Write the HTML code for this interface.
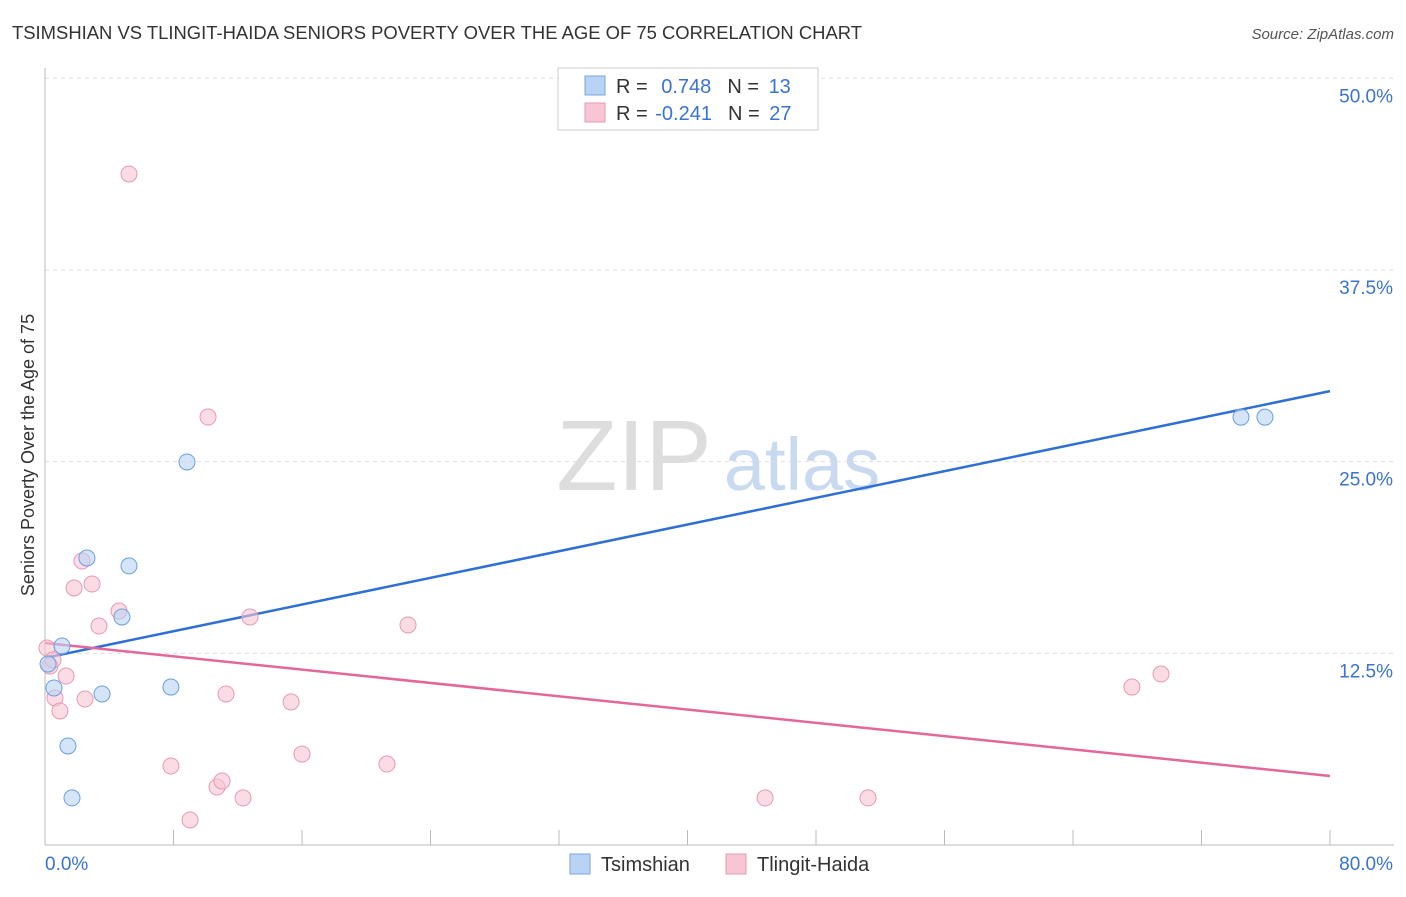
<!DOCTYPE html>
<html><head><meta charset="utf-8"><style>
body{margin:0;background:#fff;font-family:"Liberation Sans",sans-serif;}
svg text{font-family:"Liberation Sans",sans-serif;}
</style></head><body>
<svg id="chart" width="1406" height="892">
<text x="12" y="39" font-size="18" fill="#333" textLength="850" lengthAdjust="spacingAndGlyphs">TSIMSHIAN VS TLINGIT-HAIDA SENIORS POVERTY OVER THE AGE OF 75 CORRELATION CHART</text>
<text x="1394" y="39" font-size="15" fill="#555" text-anchor="end" font-style="italic">Source: ZipAtlas.com</text>
<text x="0" y="0" transform="translate(34,455) rotate(-90)" font-size="18" fill="#333" text-anchor="middle">Seniors Poverty Over the Age of 75</text>
<g><text x="634" y="490" font-size="100" fill="#ddd" text-anchor="middle" font-family="Liberation Serif">ZIP</text><text x="802" y="490" font-size="74" fill="#c9d9f0" text-anchor="middle">atlas</text></g>
<g id="grid"></g><g id="axes"></g><g id="lines"></g><g id="points"></g>
<g>
<rect x="558" y="68" width="260" height="62" fill="#fff" stroke="#ccc"/>
<rect x="585" y="76" width="20" height="19" fill="#b9d3f5" stroke="#7aa6e0"/>
<rect x="585" y="103" width="20" height="19" fill="#f9c4d4" stroke="#e79ab2"/>
<text x="616" y="93" font-size="20" fill="#333">R = <tspan fill="#3a74d0" dx="8">0.748</tspan><tspan fill="#333" dx="16">N = </tspan><tspan fill="#3a74d0" dx="4">13</tspan></text>
<text x="616" y="120" font-size="20" fill="#333">R = <tspan fill="#3a74d0" dx="2">-0.241</tspan><tspan fill="#333" dx="16">N = </tspan><tspan fill="#3a74d0" dx="4">27</tspan></text>
</g>
<g>
<rect x="570" y="854" width="20" height="20" fill="#b9d3f5" stroke="#7aa6e0"/>
<text x="601" y="871" font-size="20" fill="#333">Tsimshian</text>
<rect x="726" y="854" width="20" height="20" fill="#f9c4d4" stroke="#e79ab2"/>
<text x="757" y="871" font-size="20" fill="#333">Tlingit-Haida</text>
</g>
</svg>
<script>
const yTicks=[12.5,25,37.5,50];
const yTickLabels=["12.5%","25.0%","37.5%","50.0%"];
const blueX=[0.19,0.56,1.06,1.43,1.68,2.61,3.55,4.79,5.23,7.84,8.84,74.46,75.95];
const blueY=[11.8,10.24,12.98,6.46,3.07,18.72,9.85,14.87,18.2,10.3,24.98,27.9,27.9];
const pinkX=[0.12,0.31,0.5,0.62,0.93,1.31,1.81,2.3,2.49,2.93,3.36,4.61,5.23,7.84,9.03,10.15,10.71,11.02,11.27,12.33,12.76,15.32,16.0,21.29,22.6,44.83,51.24,67.67,69.48];
const pinkY=[12.85,11.67,12.07,9.59,8.74,11.02,16.76,18.52,9.52,17.02,14.28,15.26,43.76,5.15,1.63,27.91,3.78,4.17,9.85,3.07,14.87,9.33,5.93,5.28,14.35,3.07,3.07,10.3,11.15];
const blueTrend=[12.2,29.6];
const pinkTrend=[13.17,4.5];
const NS="http://www.w3.org/2000/svg";
const X=v=>45+v/80*1285, Y=v=>845-v/50*766.7;
function mk(t,a,p){const e=document.createElementNS(NS,t);for(const k in a)e.setAttribute(k,a[k]);document.getElementById(p).appendChild(e);return e;}
yTicks.forEach((t,i)=>{
 const g=mk('line',{x1:45,x2:1394,y1:Y(t),y2:Y(t),stroke:'#ddd','stroke-dasharray':'4,4'},'grid');
 
 
 const l=mk('text',{x:1393,y:Y(t)+24,'font-size':19,fill:'#3a74d0','text-anchor':'end'},'axes');
 l.textContent=yTickLabels[i];
 
 
});
const ax=mk('line',{x1:45,x2:45,y1:68,y2:845,stroke:'#bbb'},'axes');


const bx=mk('line',{x1:45,x2:1394,y1:845,y2:845,stroke:'#bbb'},'axes');


for(let i=0;i<=10;i++){const t=mk('line',{x1:X(i*8),x2:X(i*8),y1:830,y2:845,stroke:'#bbb'},'axes');
 
 }
const x0=mk('text',{x:45,y:870,'font-size':19,fill:'#3a74d0'},'axes');x0.textContent='0.0%';


const x1=mk('text',{x:1393,y:870,'font-size':19,fill:'#3a74d0','text-anchor':'end'},'axes');x1.textContent='80.0%';


pinkX.forEach((v,i)=>{const c=mk('circle',{cx:X(v),cy:Y(pinkY[i]),r:8,fill:'#f9c4d4','fill-opacity':0.6,stroke:'#e79ab2'},'points');
 
 });
blueX.forEach((v,i)=>{const c=mk('circle',{cx:X(v),cy:Y(blueY[i]),r:8,fill:'#b9d3f5','fill-opacity':0.6,stroke:'#6a9ee0'},'points');
 
 });
const bl=mk('line',{x1:X(0),y1:Y(blueTrend[0]),x2:X(80),y2:Y(blueTrend[1]),stroke:'#2f6fd6','stroke-width':2.5},'lines');


const pl=mk('line',{x1:X(0),y1:Y(pinkTrend[0]),x2:X(80),y2:Y(pinkTrend[1]),stroke:'#e5679a','stroke-width':2.5},'lines');


</script>
</body></html>
